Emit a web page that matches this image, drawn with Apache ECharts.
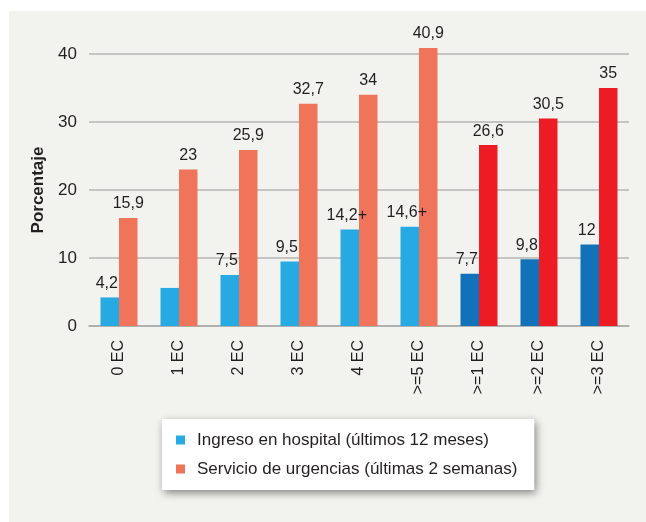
<!DOCTYPE html>
<html><head><meta charset="utf-8">
<script src="https://cdn.jsdelivr.net/npm/echarts@6/dist/echarts.min.js"></script>
<style>html,body{margin:0;padding:0;background:#fff}#c{width:646px;height:522px}</style>
</head><body><div id="c"></div>
<script>
var categories = ['0 EC','1 EC','2 EC','3 EC','4 EC','>=5 EC','>=1 EC','>=2 EC','>=3 EC'];
var hospital = [4.2, 5.6, 7.5, 9.5, 14.2, 14.6, 7.7, 9.8, 12];
var hospitalLabels = ['4,2', '', '7,5', '9,5', '14,2+', '14,6+', '7,7', '9,8', '12'];
var urgencias = [15.9, 23, 25.9, 32.7, 34, 40.9, 26.6, 30.5, 35];
var urgenciasLabels = ['15,9', '23', '25,9', '32,7', '34', '40,9', '26,6', '30,5', '35'];
var darkFrom = 6;
var yTicks = [0, 10, 20, 30, 40];
var seriesNames = ['Ingreso en hospital (últimos 12 meses)', 'Servicio de urgencias (últimas 2 semanas)'];

var FONT = '"Liberation Sans", Arial, sans-serif';
var C_BLUE = '#27a9e1', C_DBLUE = '#1172ba', C_ORANGE = '#f0745a', C_RED = '#ed1c24';

function mk(vals, light, dark) {
  return vals.map(function (v, i) {
    return { value: v, itemStyle: { color: i >= darkFrom ? dark : light } };
  });
}

var chart = echarts.init(document.getElementById('c'), null, { renderer: 'canvas' });
chart.setOption({
  backgroundColor: '#ffffff',
  animation: false,
  graphic: [{ type: 'rect', z: -10, shape: { x: 9, y: 11, width: 646, height: 522 }, style: { fill: '#f2f2ee' } }],
  grid: { left: 89, right: 17, top: 54, bottom: 196 },
  legend: {
    orient: 'vertical', left: 162, top: 419,
    backgroundColor: '#ffffff',
    padding: [11, 17, 11, 14],
    shadowBlur: 8, shadowColor: 'rgba(0,0,0,0.45)', shadowOffsetX: 2, shadowOffsetY: 3,
    itemWidth: 9, itemHeight: 9, itemGap: 9,
    icon: 'rect',
    textStyle: { fontFamily: FONT, fontSize: 17, color: '#231f20', lineHeight: 20, padding: [0, 0, 0, 7] },
    data: [
      { name: seriesNames[0], itemStyle: { color: C_BLUE } },
      { name: seriesNames[1], itemStyle: { color: C_ORANGE } }
    ]
  },
  xAxis: {
    type: 'category', data: categories,
    axisLine: { lineStyle: { color: '#a8a8a8', width: 1.5 } },
    axisTick: { length: 6, lineStyle: { color: '#a8a8a8', width: 1.5 } },
    axisLabel: { rotate: 90, margin: 14, fontFamily: FONT, fontSize: 16, color: '#231f20' }
  },
  yAxis: {
    type: 'value', min: 0, max: 40, interval: 10,
    name: 'Porcentaje', nameLocation: 'middle', nameGap: 41, nameRotate: 90,
    nameTextStyle: { fontFamily: FONT, fontSize: 17, fontWeight: 'bold', color: '#231f20' },
    axisLine: { show: false }, axisTick: { show: false },
    axisLabel: { margin: 12, fontFamily: FONT, fontSize: 17, color: '#231f20' },
    splitLine: { lineStyle: { color: '#b4b4b4', width: 1.5 } }
  },
  series: [
    {
      name: seriesNames[0], type: 'bar', clip: false, barWidth: 18.5, barGap: '0%',
      itemStyle: { color: C_BLUE },
      data: mk(hospital, C_BLUE, C_DBLUE),
      label: { show: true, position: 'top', distance: 6, offset: [-3, 0], fontFamily: FONT, fontSize: 16, color: '#231f20',
        formatter: function (p) { return hospitalLabels[p.dataIndex]; } }
    },
    {
      name: seriesNames[1], type: 'bar', clip: false, barWidth: 18.5, barGap: '0%',
      itemStyle: { color: C_ORANGE },
      data: mk(urgencias, C_ORANGE, C_RED),
      label: { show: true, position: 'top', distance: 6, fontFamily: FONT, fontSize: 16, color: '#231f20',
        formatter: function (p) { return urgenciasLabels[p.dataIndex]; } }
    }
  ]
});
</script></body></html>
